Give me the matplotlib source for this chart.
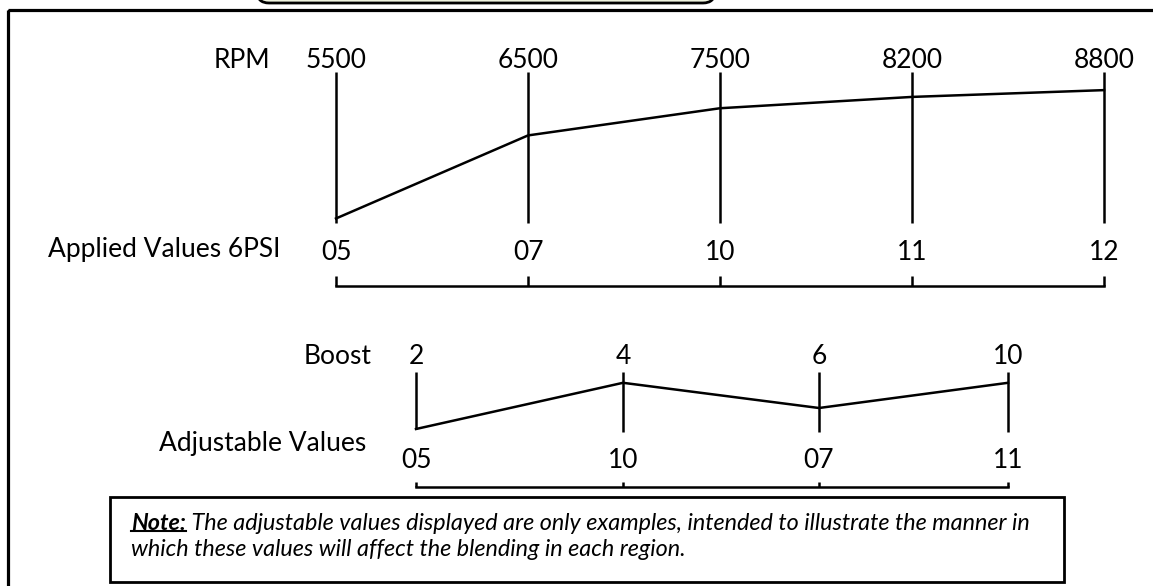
"""
RPM / Boost blending diagram (schematic line chart)
"""
import matplotlib
matplotlib.use("Agg")
import matplotlib.pyplot as plt
from matplotlib.patches import Rectangle, FancyBboxPatch

matplotlib.rcParams['font.family'] = ['Lato', 'DejaVu Sans']

# --- data ---
rpm_labels = ['5500', '6500', '7500', '8200', '8800']
applied_labels = ['05', '07', '10', '11', '12']
rpm_curve = [0.03, 0.58, 0.76, 0.835, 0.88]      # level on each column (0 = bottom, 1 = top)

boost_labels = ['2', '4', '6', '10']
adjustable_labels = ['05', '10', '07', '11']
boost_curve = [0.05, 0.82, 0.40, 0.82]

note_head = "Note:"
note_line1 = " The adjustable values displayed are only examples, intended to illustrate the manner in"
note_line2 = "which these values will affect the blending in each region."

# --- layout (pixels, y down) ---
W, H = 1153, 586
top_cols = [336, 528, 720, 912, 1104]
top_y0, top_y1 = 223, 72          # column bottom / top
bot_cols = [416, 623, 819, 1008]
bot_y0, bot_y1 = 432, 372

LW = 1.8
FS = 19

fig = plt.figure(figsize=(W / 100, H / 100), dpi=100)
ax = fig.add_axes([0, 0, 1, 1])
ax.set_xlim(0, W)
ax.set_ylim(H, 0)
ax.axis('off')

# outer frame (runs off right / bottom)
ax.add_patch(Rectangle((8, 10), 1300, 800, fill=False, lw=2.3, ec='black'))
# rounded tab at top
ax.add_patch(FancyBboxPatch((257, -40), 458, 43, boxstyle='round,pad=0,rounding_size=12',
                            fc='#eef3de', ec='black', lw=2))


def level_to_y(lv, y0, y1):
    return y0 + (y1 - y0) * lv


# --- top section: RPM ---
ax.text(270, 60, 'RPM', fontsize=FS, ha='right', va='center')
for x, lab, alab in zip(top_cols, rpm_labels, applied_labels):
    ax.plot([x, x], [top_y0, top_y1], color='black', lw=LW, solid_capstyle='butt')
    ax.text(x, 60, lab, fontsize=FS, ha='center', va='center')
    ax.text(x, 252, alab, fontsize=FS, ha='center', va='center')
ax.plot(top_cols, [level_to_y(v, top_y0, top_y1) for v in rpm_curve], color='black', lw=LW)
ax.text(280, 250, 'Applied Values 6PSI', fontsize=FS, ha='right', va='center')

# bracket
ax.plot([top_cols[0], top_cols[-1]], [286, 286], color='black', lw=LW, solid_capstyle='projecting')
for x in top_cols:
    ax.plot([x, x], [276, 286], color='black', lw=LW, solid_capstyle='butt')

# --- lower section: Boost ---
ax.text(372, 357, 'Boost', fontsize=FS, ha='right', va='center')
bot_line_y = [level_to_y(v, bot_y0, bot_y1) for v in boost_curve]
for i, (x, lab, alab) in enumerate(zip(bot_cols, boost_labels, adjustable_labels)):
    yb = bot_line_y[i] if i == 0 else bot_y0
    ax.plot([x, x], [yb, bot_y1], color='black', lw=LW, solid_capstyle='butt')
    ax.text(x, 357, lab, fontsize=FS, ha='center', va='center')
    ax.text(x, 460, alab, fontsize=FS, ha='center', va='center')
ax.plot(bot_cols, bot_line_y, color='black', lw=LW)
ax.text(366, 443, 'Adjustable Values', fontsize=FS, ha='right', va='center')

ax.plot([bot_cols[0], bot_cols[-1]], [487, 487], color='black', lw=LW, solid_capstyle='projecting')
for x in bot_cols:
    ax.plot([x, x], [482, 487], color='black', lw=LW, solid_capstyle='butt')

# --- note box ---
ax.add_patch(Rectangle((110, 497), 954, 85, fill=False, lw=2.0, ec='black'))
NFS = 16.8
head = ax.text(131, 523, note_head, fontsize=NFS, style='italic', fontweight='bold',
               ha='left', va='center')
ax.annotate(note_line1, xy=(1, 0), xycoords=head, fontsize=NFS, style='italic',
            ha='left', va='bottom')
ax.text(131, 549, note_line2, fontsize=NFS, style='italic', ha='left', va='center')

# underline "Note:"
fig.canvas.draw()
bb = head.get_window_extent(fig.canvas.get_renderer())
inv = ax.transData.inverted()
(x0, yb0), (x1, _) = inv.transform([[bb.x0, bb.y0], [bb.x1, bb.y1]])
ax.plot([x0, x1], [yb0 - 3, yb0 - 3], color='black', lw=1.5)

fig.savefig('out.png', dpi=100)
plt.close(fig)
